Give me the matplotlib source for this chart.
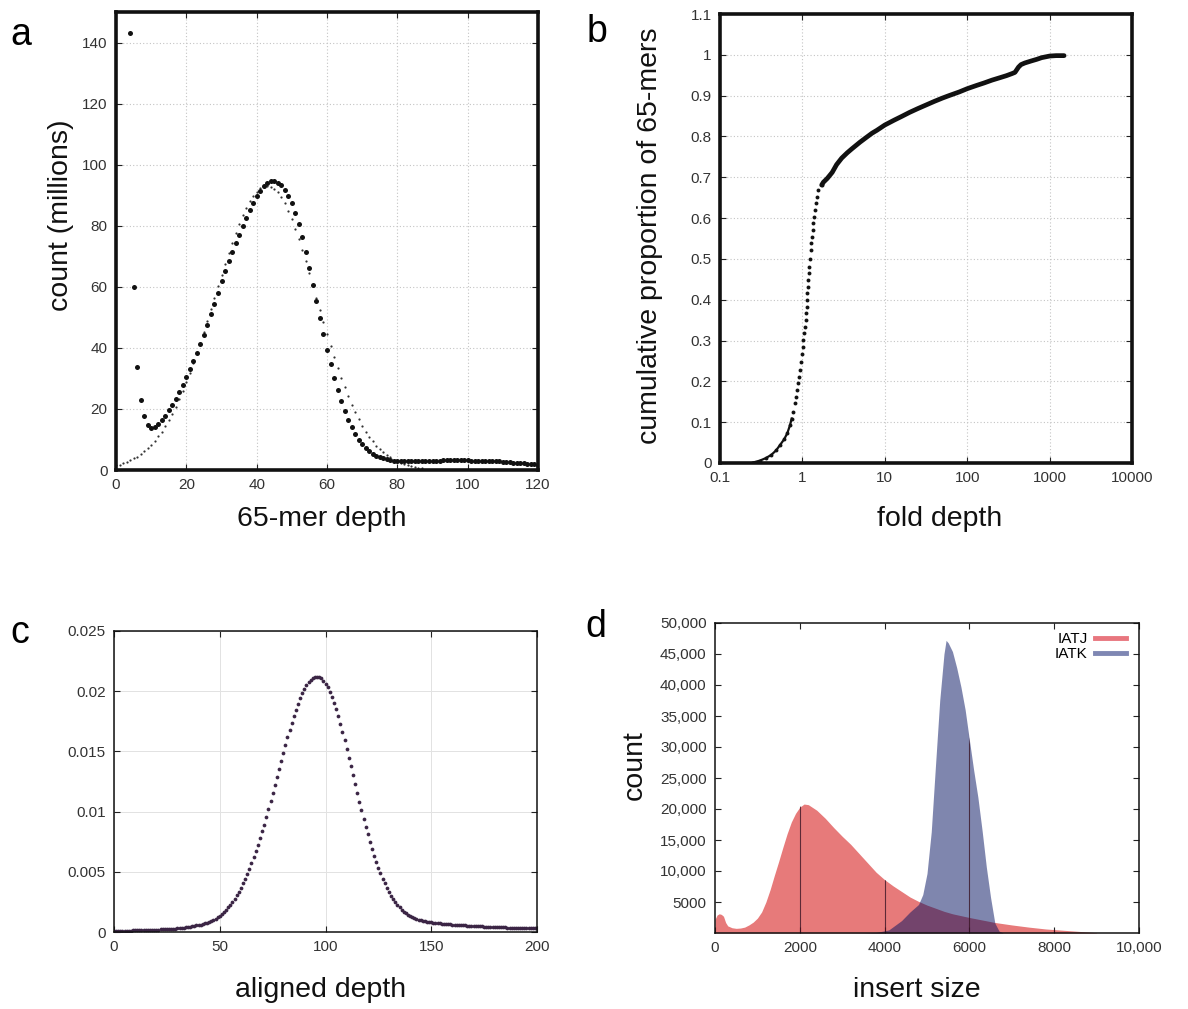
import numpy as np
import matplotlib
matplotlib.use("Agg")
import matplotlib.pyplot as plt
from matplotlib.lines import Line2D
from matplotlib.ticker import NullLocator

plt.rcParams['font.family'] = ['Liberation Sans', 'DejaVu Sans']

# ---- panel a: 65-mer depth histogram (millions) and fitted curve ----
depth_a = list(range(4, 121))
count_a = [143, 60, 33.8, 22.9, 17.7, 14.7, 13.8, 14.0, 15.0, 16.3,
           17.8, 19.6, 21.4, 23.3, 25.4, 28.0, 30.5, 33.0, 35.6, 38.3,
           41.2, 44.2, 47.4, 51.0, 54.5, 58.0, 61.9, 65.3, 68.6, 71.5,
           74.3, 77.0, 79.8, 82.5, 85.0, 87.4, 89.6, 91.5, 93.0, 94.0,
           94.7, 94.6, 94.0, 93.2, 91.8, 89.8, 87.3, 84.3, 80.6, 76.3,
           71.4, 66.2, 60.7, 55.2, 49.8, 44.4, 39.3, 34.6, 30.2, 26.2,
           22.6, 19.4, 16.5, 14.0, 11.8, 9.9, 8.4, 7.1, 6.1, 5.3,
           4.7, 4.2, 3.8, 3.5, 3.3, 3.1, 3.0, 3.0, 2.9, 2.9,
           2.9, 3.0, 3.0, 3.0, 3.0, 3.1, 3.1, 3.1, 3.1, 3.2,
           3.2, 3.2, 3.2, 3.2, 3.2, 3.2, 3.2, 3.1, 3.1, 3.1,
           3.0, 3.0, 2.9, 2.9, 2.8, 2.8, 2.7, 2.6, 2.5, 2.4,
           2.4, 2.3, 2.2, 2.1, 2.0, 1.9, 1.8]
fit_depth = list(range(0, 88))
fit_count = [1.5, 1.8, 2.2, 2.7, 3.2, 3.8, 4.4, 5.2, 6.1, 7.1,
             8.3, 9.6, 11.0, 12.6, 14.3, 16.3, 18.4, 20.7, 23.2, 25.9,
             28.7, 31.7, 34.9, 38.2, 41.7, 45.3, 48.9, 52.6, 56.4, 60.2,
             63.9, 67.5, 71.1, 74.5, 77.7, 80.7, 83.4, 85.8, 88.0, 89.7,
             91.2, 92.2, 92.8, 93.0, 92.8, 92.1, 90.9, 89.3, 87.3, 84.8,
             82.1, 79.0, 75.6, 72.1, 68.3, 64.4, 60.4, 56.4, 52.4, 48.4,
             44.6, 40.7, 37.0, 33.5, 30.2, 27.1, 24.1, 21.4, 18.9, 16.6,
             14.5, 12.6, 10.9, 9.4, 8.0, 6.8, 5.8, 4.9, 4.1, 3.4,
             2.8, 2.3, 1.9, 1.6, 1.3, 1.0, 0.8, 0.7]

# ---- panel b: cumulative proportion vs fold depth ----
fold_low = [0.25, 0.306, 0.36, 0.42, 0.48, 0.535, 0.6, 0.656, 0.708, 0.741,
            0.776, 0.813, 0.836, 0.867, 0.891, 0.917, 0.935, 0.962, 0.980, 1.009,
            1.026, 1.045, 1.076, 1.096, 1.106, 1.127, 1.137, 1.148, 1.169, 1.180,
            1.202, 1.213, 1.237, 1.261, 1.284, 1.309, 1.334, 1.359, 1.384, 1.410,
            1.449, 1.490, 1.560, 1.713]
cum_low = [0.001, 0.006, 0.012, 0.020, 0.031, 0.044, 0.058, 0.073, 0.093, 0.109,
           0.126, 0.146, 0.162, 0.179, 0.195, 0.211, 0.228, 0.248, 0.267, 0.285,
           0.301, 0.318, 0.334, 0.350, 0.367, 0.383, 0.399, 0.416, 0.432, 0.448,
           0.465, 0.481, 0.501, 0.522, 0.538, 0.554, 0.571, 0.587, 0.603, 0.620,
           0.636, 0.652, 0.669, 0.681]
fold_high = [1.713, 1.8, 2.0, 2.3, 2.6, 3.0, 3.5, 4.0, 5.0, 6.0,
             7, 8, 10, 13, 16, 20, 25, 30, 40, 50,
             60, 80, 100, 130, 160, 200, 250, 300, 350, 380,
             420, 450, 500, 600, 700, 800, 1000, 1200, 1500]
cum_high = [0.681, 0.688, 0.697, 0.712, 0.731, 0.747, 0.760, 0.770, 0.786, 0.798,
            0.808, 0.815, 0.828, 0.840, 0.849, 0.859, 0.868, 0.875, 0.886, 0.894,
            0.900, 0.909, 0.917, 0.925, 0.931, 0.938, 0.944, 0.949, 0.954, 0.957,
            0.970, 0.976, 0.980, 0.985, 0.989, 0.993, 0.997, 0.998, 0.998]

# ---- panel c: aligned depth distribution ----
depth_c = list(range(0, 201))
freq_c = [.00010, .00010, .00010, .00011, .00011, .00011, .00012, .00012, .00012, .00013,
          .00013, .00014, .00014, .00015, .00015, .00016, .00016, .00017, .00018, .00018,
          .00019, .00020, .00021, .00022, .00023, .00024, .00025, .00026, .00028, .00029,
          .00031, .00033, .00035, .00037, .00040, .00041, .00043, .00046, .00050, .00054,
          .00058, .00062, .00066, .00071, .00077, .00083, .00091, .00101, .00111, .00123,
          .00136, .00151, .00167, .00186, .00205, .00227, .00251, .00277, .00305, .00335,
          .00368, .00404, .00442, .00482, .00525, .00570, .00620, .00671, .00726, .00782,
          .00841, .00892, .00955, .01019, .01084, .01151, .01217, .01286, .01354, .01421,
          .01488, .01553, .01617, .01678, .01737, .01793, .01846, .01895, .01940, .01981,
          .02017, .02048, .02074, .02094, .02108, .02117, .02120, .02116, .02106, .02088,
          .02063, .02032, .01995, .01951, .01903, .01849, .01790, .01728, .01662, .01593,
          .01522, .01449, .01375, .01301, .01226, .01152, .01080, .01010, .00941, .00874,
          .00810, .00748, .00690, .00634, .00582, .00533, .00487, .00444, .00404, .00366,
          .00332, .00301, .00273, .00248, .00225, .00204, .00186, .00170, .00156, .00143,
          .00132, .00123, .00115, .00108, .00102, .00097, .00092, .00088, .00085, .00082,
          .00079, .00077, .00075, .00073, .00071, .00069, .00067, .00066, .00064, .00063,
          .00061, .00060, .00059, .00057, .00056, .00055, .00054, .00053, .00052, .00051,
          .00050, .00049, .00048, .00047, .00046, .00045, .00044, .00044, .00043, .00042,
          .00041, .00041, .00040, .00039, .00039, .00038, .00037, .00037, .00036, .00036,
          .00035, .00035, .00034, .00034, .00033, .00033, .00032, .00032, .00031, .00031,
          .00030]

# ---- panel d: insert size distributions ----
iatj_size = [0, 50, 100, 150, 200, 250, 300, 400, 500, 600,
             700, 800, 900, 1000, 1100, 1200, 1300, 1400, 1500, 1600,
             1700, 1800, 1900, 2000, 2100, 2200, 2400, 2600, 2800, 3000,
             3200, 3400, 3600, 3800, 4000, 4200, 4400, 4600, 4800, 5000,
             5200, 5400, 5600, 5800, 6000, 6300, 6600, 7000, 7400, 7800,
             8200, 8600, 9000]
iatj_count = [2200, 2900, 3100, 3000, 2700, 1700, 1150, 850, 750, 800,
              950, 1300, 1750, 2400, 3400, 5000, 7000, 9300, 11500, 13800,
              16000, 17900, 19300, 20300, 20800, 20700, 19800, 18500, 17000, 15600,
              14300, 12800, 11300, 9800, 8600, 7600, 6700, 5800, 5100, 4500,
              4000, 3500, 3100, 2800, 2500, 2100, 1700, 1300, 950, 650,
              450, 250, 50]
iatk_size = [3000, 3500, 3800, 4000, 4100, 4300, 4400, 4600, 4800, 4900,
             5000, 5100, 5200, 5300, 5400, 5450, 5500, 5600, 5700, 5800,
             5900, 6000, 6100, 6200, 6300, 6400, 6500, 6600, 6700, 6800]
iatk_count = [0, 30, 100, 350, 500, 1500, 2000, 3400, 4600, 6200,
              9600, 16300, 27000, 37500, 45000, 47200, 46800, 45400, 42800, 39700,
              36000, 31100, 26300, 21900, 16500, 10600, 5700, 1600, 300, 0]

W, H = 1188, 1009
fig = plt.figure(figsize=(W / 100, H / 100), dpi=100)


def box(l, t, r, b):
    return [l / W, 1 - b / H, (r - l) / W, (b - t) / H]


def style(ax, frame_lw):
    for s in ax.spines.values():
        s.set_linewidth(frame_lw)
        s.set_color('#111111')
    ax.tick_params(direction='in', top=True, right=True, length=4, width=0.8,
                   labelsize=11, labelcolor='#333333', color='#222222', pad=6)
    ax.set_axisbelow(True)


def fig_text(x, y, s, **kw):
    fig.text(x / W, 1 - y / H, s, **kw)


grid_dot = dict(color='#c4c4c4', ls=(0, (1, 2)), lw=0.8)

# panel a
ax_a = fig.add_axes(box(116, 12, 538, 470))
style(ax_a, 2.6)
ax_a.grid(True, **grid_dot)
ax_a.plot(fit_depth, fit_count, ls='none', marker='o', ms=1.6, mew=0, color='#333333')
ax_a.plot(depth_a, count_a, ls='none', marker='o', ms=3.6, mew=0, color='#111111')
ax_a.set_xlim(0, 120)
ax_a.set_ylim(0, 150)
ax_a.set_xticks(range(0, 121, 20))
ax_a.set_yticks(range(0, 141, 20))

# panel b
ax_b = fig.add_axes(box(720, 14, 1132, 463))
style(ax_b, 2.6)
ax_b.set_xscale('log')
ax_b.grid(True, **grid_dot)
ax_b.plot(fold_low[:10], cum_low[:10], color='#111111', lw=1.6)
ax_b.plot(fold_low, cum_low, ls='none', marker='o', ms=2.8, mew=0, color='#111111')
ax_b.plot(fold_high, cum_high, color='#111111', lw=3.4, solid_capstyle='round')
ax_b.set_xlim(0.1, 10000)
ax_b.set_ylim(0, 1.1)
ax_b.set_xticks([0.1, 1, 10, 100, 1000, 10000])
ax_b.set_xticklabels(['0.1', '1', '10', '100', '1000', '10000'])
ax_b.xaxis.set_minor_locator(NullLocator())
ax_b.set_yticks([i / 10 for i in range(12)])
ax_b.set_yticklabels(['0', '0.1', '0.2', '0.3', '0.4', '0.5', '0.6', '0.7', '0.8', '0.9', '1', '1.1'])

# panel c
ax_c = fig.add_axes(box(114, 631, 537, 932))
style(ax_c, 1.1)
ax_c.grid(True, color='#e2e2e2', lw=0.7)
ax_c.plot(depth_c, freq_c, ls='none', marker='o', ms=2.7, mew=0, color='#3b2545')
ax_c.set_xlim(0, 200)
ax_c.set_ylim(0, 0.025)
ax_c.set_xticks(range(0, 201, 50))
ax_c.set_yticks([0, 0.005, 0.01, 0.015, 0.02, 0.025])
ax_c.set_yticklabels(['0', '0.005', '0.01', '0.015', '0.02', '0.025'])

# panel d
ax_d = fig.add_axes(box(715, 623, 1139, 933))
style(ax_d, 1.1)
red = ax_d.fill_between(iatj_size, iatj_count, 0, color='#d10001', alpha=0.52, lw=0)
blue = ax_d.fill_between(iatk_size, iatk_count, 0, color='#000f5f', alpha=0.5, lw=0)
for xv, poly in [(2000, red), (4000, red), (6000, blue), (8000, red)]:
    ln = ax_d.axvline(xv, color='#3a1525', lw=0.8, alpha=0.8)
    ln.set_clip_path(poly.get_paths()[0], poly.get_transform())
ax_d.set_xlim(0, 10000)
ax_d.set_ylim(0, 50000)
ax_d.set_xticks(range(0, 10001, 2000))
ax_d.set_xticklabels(['0', '2000', '4000', '6000', '8000', '10,000'])
ax_d.set_yticks(range(5000, 50001, 5000))
ax_d.set_yticklabels(['5000'] + [f'{v:,}' for v in range(10000, 50001, 5000)])
handles = [Line2D([], [], color='#e8767e', lw=3.5), Line2D([], [], color='#7f87b3', lw=3.5)]
ax_d.legend(handles, ['IATJ', 'IATK'], loc='upper right', frameon=False, fontsize=11,
            markerfirst=False, handlelength=2.0, handletextpad=0.5, labelspacing=0.05,
            borderaxespad=0.2, bbox_to_anchor=(0.99, 1.0))

# panel letters
for x, y, s in [(21, 45, 'a'), (597, 42, 'b'), (20, 643, 'c'), (596, 637, 'd')]:
    fig_text(x, y, s, fontsize=27, ha='center', va='baseline')

# axis titles
lab = dict(fontsize=20.5, ha='center', va='center', color='#111111')
fig_text(61, 215, 'count (millions)', rotation=90, **lab)
fig_text(322, 519, '65-mer depth', **lab)
fig_text(650, 236, 'cumulative proportion of 65-mers', rotation=90, **lab)
fig_text(940, 519, 'fold depth', **lab)
fig_text(321, 990, 'aligned depth', **lab)
fig_text(917, 990, 'insert size', **lab)
fig_text(635, 765, 'count', rotation=90, **lab)

fig.savefig('out.png', dpi=100)
